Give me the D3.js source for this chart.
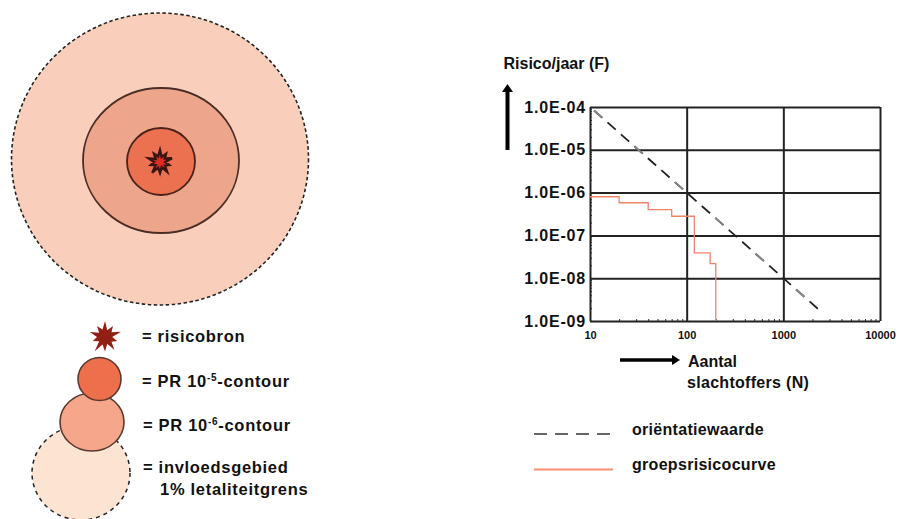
<!DOCTYPE html>
<html>
<head>
<meta charset="utf-8">
<script src="https://cdn.jsdelivr.net/npm/d3@7"></script>
<style>
    html, body { margin: 0; padding: 0; background: #fff; }
    svg { display: block; }
    text { font-family: "Liberation Sans", Arial, sans-serif; font-weight: bold; fill: #111; }
</style>
</head>
<body>
<svg id="chart" width="898" height="519"></svg>
<script>
// F-N curve values
const yTicks = [1e-4, 1e-5, 1e-6, 1e-7, 1e-8, 1e-9];
const yLabels = ["1.0E-04", "1.0E-05", "1.0E-06", "1.0E-07", "1.0E-08", "1.0E-09"];
const xTicks = [10, 100, 1000, 10000];
const orientN = [11, 100, 1000, 2500];
const orientF = [8.3e-5, 1e-6, 1e-8, 1.6e-9];
const groupN = [10, 20, 20, 40, 40, 70, 70, 120, 120, 175, 175, 200, 200];
const groupF = [8e-7, 8e-7, 5.8e-7, 5.8e-7, 4e-7, 4e-7, 2.8e-7, 2.8e-7, 3.9e-8, 3.9e-8, 2.2e-8, 2.2e-8, 1e-9];

// star outline, alternating long and short spikes
const starRadii = [1, .45, .85, .5, 1.05, .45, .8, .5, 1, .45, .9, .5, 1.1, .45, .8, .5, 1, .45, .85, .5];

const svg = d3.select("#chart");

/* ---- contour diagram ---- */
const map = svg.append("g");

map.append("ellipse").attr("cx", 160).attr("cy", 159).attr("rx", 148.5).attr("ry", 146)
    .attr("fill", "#f9cfbc").attr("stroke", "#222").attr("stroke-width", 1.6).attr("stroke-dasharray", "3.5 2.5");
map.append("ellipse").attr("cx", 161).attr("cy", 160.5).attr("rx", 78).attr("ry", 72.5)
    .attr("fill", "#eda68c").attr("stroke", "#4a2e26").attr("stroke-width", 1.8);
map.append("ellipse").attr("cx", 161).attr("cy", 161.5).attr("rx", 34).attr("ry", 33.5)
    .attr("fill", "#ec7150").attr("stroke", "#4a221a").attr("stroke-width", 1.8);

const star = d3.lineRadial()
    .angle((d, i) => i / starRadii.length * 2 * Math.PI)
    .radius(d => d)
    .curve(d3.curveLinearClosed);

map.append("path").attr("transform", "translate(160,162)")
    .attr("d", star(starRadii.map(d => d * 12)))
    .attr("fill", "#e02a26").attr("stroke", "#3a1410").attr("stroke-width", 2.4);

/* ---- legend of the diagram ---- */
const key = svg.append("g");

key.append("path").attr("transform", "translate(105,337)")
    .attr("d", star(starRadii.map(d => d * 16)))
    .attr("fill", "#921f14");
key.append("ellipse").attr("cx", 81).attr("cy", 473).attr("rx", 49).attr("ry", 47)
    .attr("fill", "#fde3d1").attr("stroke", "#222").attr("stroke-width", 1.5).attr("stroke-dasharray", "4 4");
key.append("ellipse").attr("cx", 92).attr("cy", 422).attr("rx", 32).attr("ry", 29)
    .attr("fill", "#f6a78b").attr("stroke", "#5a3a30").attr("stroke-width", 1.6);
key.append("ellipse").attr("cx", 99.5).attr("cy", 379).attr("rx", 21.5).attr("ry", 21.5)
    .attr("fill", "#ee6f4b").attr("stroke", "#5a3a30").attr("stroke-width", 1.6);

const keyText = (x, y, parts) => {
    const t = key.append("text").attr("x", x).attr("y", y)
        .attr("font-size", 16.5).attr("letter-spacing", 0.7);
    parts.forEach(p => {
        const s = t.append("tspan").text(p.text);
        if (p.sup) s.attr("font-size", 10).attr("dy", -6);
        if (p.after) s.attr("dy", 6);
    });
};

keyText(142, 342, [{text: "= risicobron"}]);
keyText(142, 387, [{text: "= PR 10"}, {text: "-5", sup: true}, {text: "-contour", after: true}]);
keyText(143, 431, [{text: "= PR 10"}, {text: "-6", sup: true}, {text: "-contour", after: true}]);
keyText(143, 473, [{text: "= invloedsgebied"}]);
keyText(160, 495, [{text: "1% letaliteitgrens"}]);

/* ---- F-N chart ---- */
const x = d3.scaleLog().domain([10, 10000]).range([590, 880]);
const y = d3.scaleLog().domain([1e-9, 1e-4]).range([321, 107]);

const plot = svg.append("g");

// minor ticks, these show as small dots along the axes
const minor = base => d3.range(2, 10).map(m => m * base);
const xMinor = xTicks.slice(0, 3).flatMap(minor);
const yMinor = yTicks.slice(1).flatMap(minor);

plot.append("g").attr("transform", "translate(0,321)")
    .call(d3.axisTop(x).tickValues(xMinor).tickSize(2).tickFormat(""))
    .call(g => g.select(".domain").remove())
    .call(g => g.selectAll("line").attr("stroke", "#333"));
plot.append("g").attr("transform", "translate(590,0)")
    .call(d3.axisRight(y).tickValues(yMinor).tickSize(2).tickFormat(""))
    .call(g => g.select(".domain").remove())
    .call(g => g.selectAll("line").attr("stroke", "#333"));

const xAxis = plot.append("g").attr("transform", "translate(0,321)")
    .call(d3.axisBottom(x).tickValues(xTicks).tickSize(-214).tickPadding(10).tickFormat(d => d));
xAxis.select(".domain").remove();
xAxis.selectAll("line").attr("stroke", "#222").attr("stroke-width", 2);
xAxis.selectAll("text").attr("font-size", 11).attr("font-family", null);

const yAxis = plot.append("g").attr("transform", "translate(590,0)")
    .call(d3.axisLeft(y).tickValues(yTicks).tickSize(-290).tickPadding(4).tickFormat((d, i) => yLabels[i]));
yAxis.select(".domain").remove();
yAxis.selectAll("line").attr("stroke", "#222").attr("stroke-width", 2);
yAxis.selectAll("text").attr("font-size", 16).attr("letter-spacing", 0.8).attr("font-family", null);

const fnLine = d3.line().x(d => x(d[0])).y(d => y(d[1]));

plot.append("path").datum(d3.zip(groupN, groupF))
    .attr("d", fnLine).attr("fill", "none")
    .attr("stroke", "#ee8468").attr("stroke-width", 1.3);
plot.append("path").datum(d3.zip(orientN, orientF))
    .attr("d", fnLine).attr("fill", "none")
    .attr("stroke", "#222").attr("stroke-width", 1.8).attr("stroke-dasharray", "11 7");
// every third dash is lighter in the scan
plot.append("path").datum(d3.zip(orientN, orientF))
    .attr("d", fnLine).attr("fill", "none")
    .attr("stroke", "#8a8a8a").attr("stroke-width", 1.8).attr("stroke-dasharray", "11 43");

// axis titles and arrows
const arrows = svg.append("g").attr("fill", "#000").attr("stroke", "#000");
arrows.append("line").attr("x1", 507.5).attr("y1", 150).attr("x2", 507.5).attr("y2", 92).attr("stroke-width", 4);
arrows.append("path").attr("d", d3.line()([[502, 92], [513, 92], [507.5, 84]])).attr("stroke", "none");
arrows.append("line").attr("x1", 620).attr("y1", 360).attr("x2", 672).attr("y2", 360).attr("stroke-width", 3.5);
arrows.append("path").attr("d", d3.line()([[672, 355], [672, 365], [680, 360]])).attr("stroke", "none");

svg.append("text").attr("x", 503.5).attr("y", 69).attr("font-size", 16).text("Risico/jaar (F)");
svg.append("text").attr("x", 688).attr("y", 367).attr("font-size", 16).text("Aantal");
svg.append("text").attr("x", 687).attr("y", 388).attr("font-size", 16).attr("letter-spacing", 0.3).text("slachtoffers (N)");

// line legend
const lines = svg.append("g");
lines.append("line").attr("x1", 534).attr("x2", 613).attr("y1", 434).attr("y2", 434)
    .attr("stroke", "#666").attr("stroke-width", 1.8).attr("stroke-dasharray", "13 8");
lines.append("line").attr("x1", 534).attr("x2", 613).attr("y1", 469.5).attr("y2", 469.5)
    .attr("stroke", "#f58e72").attr("stroke-width", 2);
lines.append("text").attr("x", 632).attr("y", 435).attr("font-size", 16).attr("letter-spacing", 0.3).text("oriëntatiewaarde");
lines.append("text").attr("x", 632).attr("y", 470).attr("font-size", 16).attr("letter-spacing", 0.3).text("groepsrisicocurve");
</script>
</body>
</html>
